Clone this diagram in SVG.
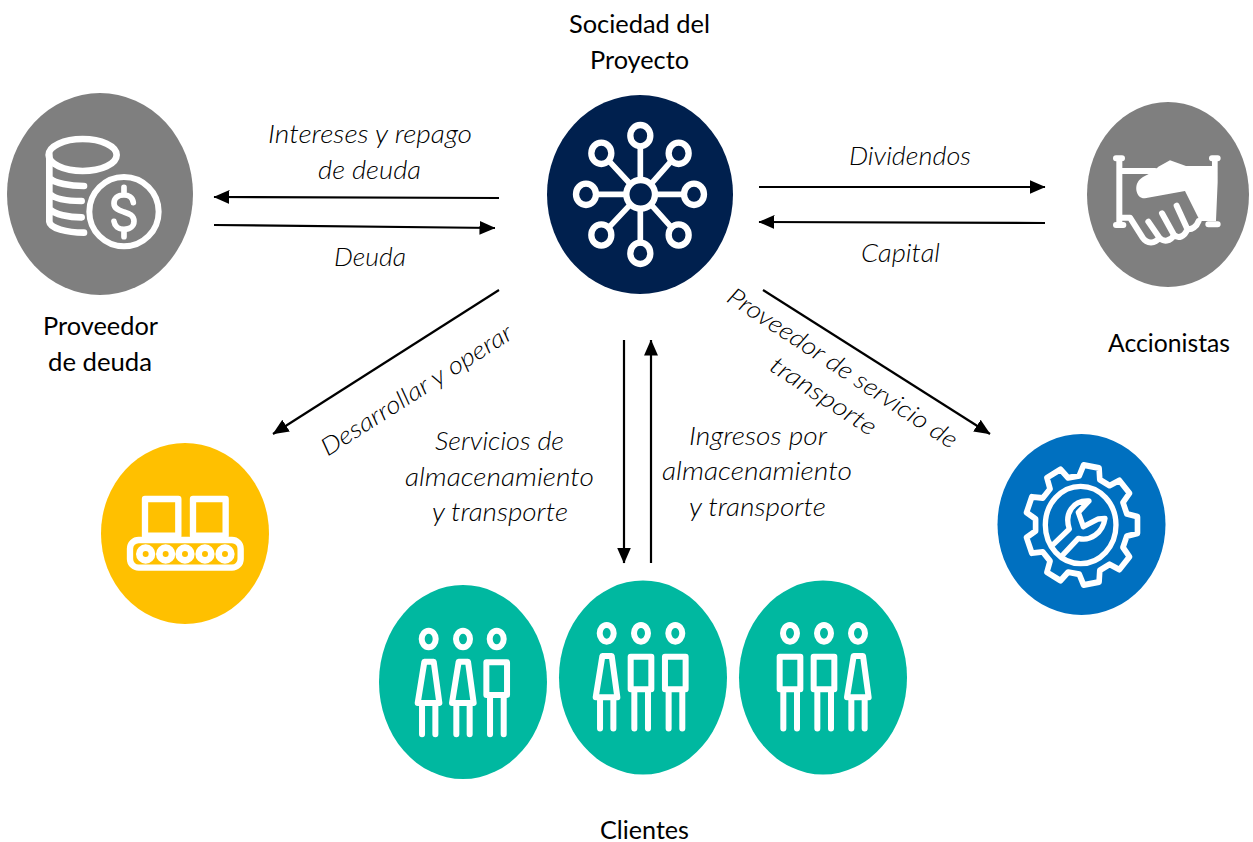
<svg xmlns="http://www.w3.org/2000/svg" width="1253" height="842" viewBox="0 0 1253 842">
<style>
text{font-family:"Lato","Open Sans","Liberation Sans",sans-serif;font-size:24.5px;fill:#000;font-weight:400}
.c{text-anchor:middle}
.i{font-style:italic;text-anchor:middle;font-weight:300}
.ic{fill:none;stroke:#fff;stroke-linecap:round;stroke-linejoin:round}
.ar{fill:none;stroke:#000;stroke-width:2.2;marker-end:url(#ah)}
</style>
<defs>
<marker id="ah" viewBox="0 0 16 14" refX="15.5" refY="7" markerWidth="16" markerHeight="14" markerUnits="userSpaceOnUse" orient="auto"><path d="M0,0L16,7L0,14Z" fill="#000"/></marker>
<g id="woman" class="ic" stroke-width="18"><ellipse cx="0" cy="0" rx="21" ry="25"/><path d="M-13,68H15L32,192H-33Z"/><path d="M-20,195V286M20,195V286"/></g>
<g id="man" class="ic" stroke-width="18"><ellipse cx="0" cy="0" rx="21" ry="25"/><rect x="-31" y="70" width="62" height="98"/><path d="M-20,170V286M21,170V286"/></g>
</defs>
<rect width="1253" height="842" fill="#fff"/>
<g id="connectors">
<path class="ar" d="M499,198L214,197"/>
<path class="ar" d="M214,225L495,228"/>
<path class="ar" d="M759,187L1045,187"/>
<path class="ar" d="M1045,223L759,222"/>
<path class="ar" d="M499,290L273,434"/>
<path class="ar" d="M763,290L990,434"/>
<path class="ar" d="M624,340V563"/>
<path class="ar" d="M651,563V340"/>
</g>
<g id="proveedor-deuda">
<ellipse cx="100" cy="194" rx="93" ry="101" fill="#7f7f7f"/>
<g transform="translate(0 90) scale(.3333)" class="ic" stroke-width="20">
<ellipse cx="248" cy="195" rx="102" ry="48"/>
<path d="M148,195V395C150,415 200,428 252,428M150,265C165,280 210,288 252,288M150,312C165,327 205,333 245,333M150,358C165,373 205,382 245,382"/>
<circle cx="372" cy="365" r="104" stroke-width="18"/>
<path d="M400,338C398,322 385,315 372,315C352,315 342,325 342,340C342,358 360,362 372,366C388,371 402,376 402,394C402,408 390,418 372,418C355,418 344,408 342,394M372,292V314M372,418V440" stroke-width="17"/>
</g>
<text class="c" x="100.500" y="335" textLength="115" lengthAdjust="spacingAndGlyphs">Proveedor</text>
<text class="c" x="100" y="371" textLength="104" lengthAdjust="spacingAndGlyphs">de deuda</text>
</g>
<g id="sociedad-proyecto">
<ellipse cx="640" cy="194.500" rx="93" ry="99.500" fill="#00204e"/>
<g transform="translate(540 90) scale(.3333)" class="ic" stroke-width="19">
<path d="M301,169V265M301,361V458M170,313H252M352,313H430M206,212L268,279M395,212L336,279M206,413L268,347M395,413L336,347" stroke-width="17"/>
<circle cx="302" cy="313" r="43"/>
<ellipse cx="301" cy="137" rx="30" ry="32"/>
<ellipse cx="184" cy="190" rx="30" ry="32"/>
<ellipse cx="416" cy="190" rx="30" ry="32"/>
<ellipse cx="138" cy="313" rx="30" ry="32"/>
<ellipse cx="462" cy="313" rx="30" ry="32"/>
<ellipse cx="184" cy="435" rx="30" ry="32"/>
<ellipse cx="416" cy="435" rx="30" ry="32"/>
<ellipse cx="301" cy="490" rx="30" ry="32"/>
</g>
<text class="c" x="639.500" y="33" textLength="141" lengthAdjust="spacingAndGlyphs">Sociedad del</text>
<text class="c" x="639.500" y="69" textLength="99" lengthAdjust="spacingAndGlyphs">Proyecto</text>
</g>
<g id="accionistas">
<ellipse cx="1168" cy="194.500" rx="81" ry="92.500" fill="#7f7f7f"/>
<g transform="translate(1080 95) scale(.3333)">
<path fill="#fff" d="M178,255C190,240 215,238 235,215L270,196L318,213H396V190H413V262L408,378H360L315,288L195,310C170,312 160,275 178,255Z"/>
<g class="ic" stroke-width="18">
<path d="M108,190H126M118,190V390M108,390H130M118,228H225M396,190H413M385,388H413"/>
<path d="M122,368H150L188,428C200,446 225,448 238,428M205,380L238,428C250,442 272,440 282,420L246,355M282,420C295,432 315,425 322,402L290,332M322,402C335,405 350,395 356,378"/>
</g>
</g>
<text class="c" x="1169" y="352" textLength="122" lengthAdjust="spacingAndGlyphs">Accionistas</text>
</g>
<g id="desarrollo">
<ellipse cx="185" cy="533.500" rx="84" ry="90.500" fill="#ffc000"/>
<g transform="translate(95 435) scale(.3333)" class="ic" stroke-width="19">
<rect x="150" y="192" width="100" height="110"/>
<rect x="294" y="192" width="98" height="110"/>
<rect x="105" y="315" width="332" height="83" rx="26"/>
<g fill="#ffc000" stroke-width="20"><circle cx="152" cy="357" r="19"/><circle cx="212" cy="357" r="19"/><circle cx="270" cy="357" r="19"/><circle cx="330" cy="357" r="19"/><circle cx="390" cy="357" r="19"/></g>
</g>
</g>
<g id="proveedor-transporte">
<ellipse cx="1081.500" cy="524.500" rx="84" ry="90.500" fill="#0070c0"/>
<g transform="translate(990 425) scale(.3333)" class="ic" stroke-width="16">
<polygon transform="translate(275 300) scale(.94 1) translate(-275 -300)" points="267.300,152.200 281.300,120.100 330.600,128.800 332.800,163.800 364.100,181.800 395.400,166.200 427.600,204.600 406.900,232.800 419.200,266.700 453.200,275 453.200,325 419.200,333.300 406.900,367.200 427.600,395.400 395.400,433.800 364.100,418.200 332.800,436.200 330.600,471.200 281.300,479.900 267.300,447.800 231.800,441.500 207.500,466.900 164.100,441.800 174.100,408.200 150.800,380.700 116,384.400 99,337.400 128,318 128,282 99,262.600 116,215.600 150.800,219.300 174.100,191.800 164.100,158.200 207.500,133.100 231.800,158.500" stroke-width="18"/>
<ellipse cx="272" cy="300" rx="106" ry="116"/>
<path d="M190,358L238,312C222,265 250,225 297,228L265,262L280,305L325,282L345,280C338,325 300,350 265,340L220,388"/>
</g>
</g>
<g id="clientes">
<ellipse cx="463" cy="682" rx="84" ry="97" fill="#00b8a0"/>
<ellipse cx="643" cy="677.500" rx="84" ry="97" fill="#00b8a0"/>
<ellipse cx="823" cy="677.500" rx="84" ry="97" fill="#00b8a0"/>
<use href="#woman" transform="translate(428.700 639) scale(.3333)"/>
<use href="#woman" transform="translate(463 639) scale(.3333)"/>
<use href="#man" transform="translate(496.700 639) scale(.3333)"/>
<use href="#woman" transform="translate(606.700 633.300) scale(.3333)"/>
<use href="#man" transform="translate(641 633.300) scale(.3333)"/>
<use href="#man" transform="translate(675.300 633.300) scale(.3333)"/>
<use href="#man" transform="translate(790 633.300) scale(.3333)"/>
<use href="#man" transform="translate(824 633.300) scale(.3333)"/>
<use href="#woman" transform="translate(858 633.300) scale(.3333)"/>
<text class="c" x="644.500" y="839" textLength="89" lengthAdjust="spacingAndGlyphs">Clientes</text>
</g>
<g id="labels">
<text class="i" x="370" y="143" textLength="204" lengthAdjust="spacingAndGlyphs">Intereses y repago</text>
<text class="i" x="369.500" y="179" textLength="103" lengthAdjust="spacingAndGlyphs">de deuda</text>
<text class="i" x="370" y="266" textLength="72" lengthAdjust="spacingAndGlyphs">Deuda</text>
<text class="i" x="910" y="165" textLength="122" lengthAdjust="spacingAndGlyphs">Dividendos</text>
<text class="i" x="900.500" y="262" textLength="79" lengthAdjust="spacingAndGlyphs">Capital</text>
<text class="i" x="499.500" y="450" textLength="129" lengthAdjust="spacingAndGlyphs">Servicios de</text>
<text class="i" x="499.500" y="486" textLength="189" lengthAdjust="spacingAndGlyphs">almacenamiento</text>
<text class="i" x="500" y="521" textLength="136" lengthAdjust="spacingAndGlyphs">y transporte</text>
<text class="i" x="758" y="445" textLength="138" lengthAdjust="spacingAndGlyphs">Ingresos por</text>
<text class="i" x="757" y="480" textLength="190" lengthAdjust="spacingAndGlyphs">almacenamiento</text>
<text class="i" x="757.500" y="516" textLength="137" lengthAdjust="spacingAndGlyphs">y transporte</text>
<text class="i" transform="translate(421 397) rotate(-32.500)" textLength="222" lengthAdjust="spacingAndGlyphs">Desarrollar y operar</text>
<text class="i" transform="translate(838 375) rotate(33.400)" textLength="270" lengthAdjust="spacingAndGlyphs">Proveedor de servicio de</text>
<text class="i" transform="translate(819 403) rotate(33.400)" textLength="122" lengthAdjust="spacingAndGlyphs">transporte</text>
</g>
</svg>
